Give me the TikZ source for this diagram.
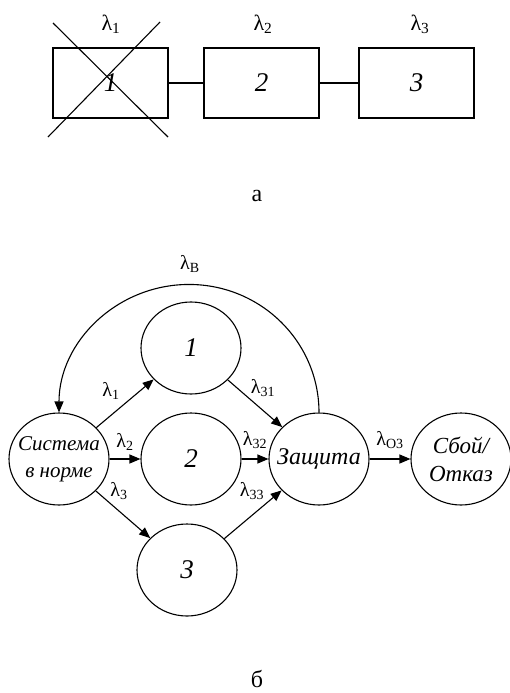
\documentclass[tikz,border=0pt]{standalone}
\usepackage{fontspec}
\setmainfont{Liberation Serif}
\usetikzlibrary{arrows.meta,shapes.geometric}
\newcommand{\lam}[1]{λ\textsubscript{#1}}

\begin{document}
\begin{tikzpicture}[x=1pt,y=-1pt,
    blok/.style={draw, line width=1.1pt, minimum width=115pt, minimum height=70pt,
      font=\fontsize{27}{28}\selectfont\itshape},
    sost/.style={draw, ellipse, line width=1.1pt, minimum width=100pt, minimum height=92pt,
      inner xsep=-14pt, inner ysep=-10pt, align=center, font=\fontsize{24}{28}\selectfont\itshape},
    cifra/.style={sost, font=\fontsize{27}{28}\selectfont\itshape},
    lab/.style={font=\fontsize{20}{22}\selectfont},
    perehod/.style={line width=1.1pt, -{Triangle[length=11pt,width=9pt]}}]
  \useasboundingbox (0,0) rectangle (510,693);
  % draw the blocks in series
  \node[blok] (b1) at (110.5,83) {1};
  \node[blok] (b2) at (261.5,83) {2};
  \node[blok] (b3) at (416.5,83) {3};
  \draw[line width=1.1pt] (b1) -- (b2);
  \draw[line width=1.1pt] (b2) -- (b3);
  \node[lab, font=\fontsize{22}{24}\selectfont] (l1) at (111,24) {\lam{1}};
  \node[lab, font=\fontsize{22}{24}\selectfont] (l2) at (263,24) {\lam{2}};
  \node[lab, font=\fontsize{22}{24}\selectfont] (l3) at (420,24) {\lam{3}};
  % cross over the failed block
  \coordinate (x1) at (53,23);
  \coordinate (x2) at (168,137);
  \coordinate (x3) at (160,22);
  \coordinate (x4) at (48,137);
  \draw[line width=1.1pt] (x1) -- (x2);
  \draw[line width=1.1pt] (x3) -- (x4);
  \node[font=\fontsize{24}{26}\selectfont, anchor=base] (cap1) at (257,201) {а};
  % draw the states
  \node[sost, font=\fontsize{21}{27}\selectfont\itshape] (sys) at (59,459) {Система\\в норме};
  \node[cifra] (s1) at (191,348) {1};
  \node[cifra] (s2) at (191,459) {2};
  \node[cifra] (s3) at (187,570) {3};
  \node[sost] (zas) at (319,459) {Защита};
  \node[sost, font=\fontsize{23}{28}\selectfont\itshape] (otk) at (461,459) {Сбой/\\Отказ};
  \draw[perehod] (sys) -- (s1);
  \draw[perehod] (sys) -- (s2);
  \draw[perehod] (sys) -- (s3);
  \draw[perehod] (s1) -- (zas);
  \draw[perehod] (s2) -- (zas);
  \draw[perehod] (s3) -- (zas);
  \draw[perehod] (zas) -- (otk);
  \draw[perehod] (zas.north) arc[start angle=0, end angle=180, x radius=130, y radius=-128];
  \node[lab] (lb) at (190,264) {\lam{В}};
  \node[lab] (la1) at (111,391) {\lam{1}};
  \node[lab] (la2) at (125,442) {\lam{2}};
  \node[lab] (la3) at (119,491) {\lam{3}};
  \node[lab] (la31) at (263,388) {\lam{31}};
  \node[lab] (la32) at (255,440) {\lam{32}};
  \node[lab] (la33) at (252,491) {\lam{33}};
  \node[lab] (lao) at (390,440) {\lam{О3}};
  \node[font=\fontsize{24}{26}\selectfont, anchor=base] (cap2) at (257,687) {б};
\end{tikzpicture}
\end{document}
